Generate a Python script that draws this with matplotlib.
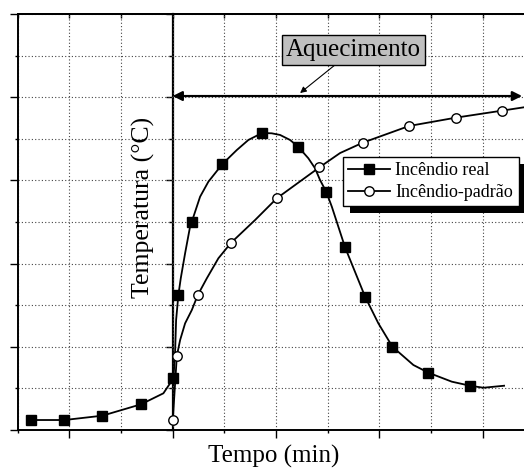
import numpy as np
import matplotlib
matplotlib.use("Agg")
import matplotlib.pyplot as plt
from matplotlib.patches import Rectangle
from matplotlib.transforms import IdentityTransform

plt.rcParams['font.family'] = ['Liberation Serif', 'DejaVu Serif']

# values (x in major divisions of time, y in major divisions of temperature)
# real fire curve; marked = point carries a square marker
real_x = [-1.368, -1.046, -0.679, -0.305, -0.089, 0.008, 0.024, 0.034, 0.056, 0.079,
          0.121, 0.169, 0.186, 0.266, 0.346, 0.482, 0.621, 0.733, 0.866, 0.959,
          1.040, 1.136, 1.214, 1.313, 1.378, 1.426, 1.487, 1.540, 1.603, 1.668,
          1.862, 1.990, 2.126, 2.329, 2.474, 2.700, 2.877, 3.006, 3.206]
real_y = [0.120, 0.120, 0.172, 0.309, 0.441, 0.621, 0.922, 1.322, 1.623, 1.823,
          2.124, 2.444, 2.504, 2.804, 2.984, 3.197, 3.365, 3.486, 3.570, 3.566,
          3.546, 3.486, 3.405, 3.266, 3.145, 3.005, 2.861, 2.684, 2.444, 2.196,
          1.602, 1.282, 1.001, 0.781, 0.689, 0.581, 0.532, 0.508, 0.532]
real_marked = [1, 1, 1, 1, 0, 1, 0, 0, 1, 0,
               0, 0, 1, 0, 0, 1, 0, 0, 1, 0,
               0, 0, 1, 0, 0, 0, 1, 0, 0, 1,
               1, 0, 1, 0, 1, 0, 1, 0, 0]

# standard fire curve; marked = point carries a circle marker
std_x = [0.002, 0.041, 0.073, 0.121, 0.186, 0.244, 0.331, 0.443, 0.566, 0.798,
         1.008, 1.420, 1.620, 1.839, 2.287, 2.739, 3.184, 3.400]
std_y = [0.120, 0.889, 1.082, 1.282, 1.442, 1.623, 1.823, 2.064, 2.251, 2.524,
         2.785, 3.157, 3.329, 3.453, 3.654, 3.754, 3.838, 3.879]
std_marked = [1, 1, 0, 0, 0, 1, 0, 0, 1, 0,
              1, 1, 0, 1, 1, 1, 1, 0]

labels = ["Incêndio real", "Incêndio-padrão"]
xlabel = "Tempo (min)"
ylabel = "Temperatura (°C)"
note = "Aquecimento"

W, H = 524, 470
fig = plt.figure(figsize=(W / 100, H / 100), dpi=100)
ax = fig.add_axes([17.5 / W, 40 / H, 508.7 / W, 416 / H])

xlim = (-1.5, 3.42)
ylim = (0, 5)

ax.plot(real_x, real_y, color='black', lw=1.3, marker='s', ms=6.5,
        markevery=[bool(m) for m in real_marked], mfc='black', mec='black',
        label=labels[0], zorder=3)
ax.plot(std_x, std_y, color='black', lw=1.3, marker='o', ms=6.8,
        markevery=[bool(m) for m in std_marked], mfc='white', mec='black', mew=1.0,
        label=labels[1], zorder=3)

ax.set_xlim(*xlim)
ax.set_ylim(*ylim)
ax.set_xticks(np.arange(-1, 3.5, 1))
ax.set_xticks(np.arange(-1.5, 3.5, 0.5), minor=True)
ax.set_yticks(np.arange(0, 5.5, 1))
ax.set_yticks(np.arange(0, 5.1, 0.5), minor=True)
ax.tick_params(which='both', labelbottom=False, labelleft=False, direction='out', width=1)
ax.tick_params(which='major', length=6)
ax.tick_params(which='minor', length=2.5)
# short inward ticks under the top frame line
secx = ax.secondary_xaxis('top')
secx.set_xticks(np.arange(-1.5, 3.5, 0.5))
secx.tick_params(which='both', direction='in', length=3, width=1, labeltop=False)
secx.spines['top'].set_linewidth(1.4)
ax.grid(which='both', linestyle=(0, (1, 2)), color='#444444', lw=0.8)
ax.set_axisbelow(True)

for s in ['left', 'bottom', 'top']:
    ax.spines[s].set_linewidth(1.4)
ax.spines['right'].set_visible(False)

# second vertical axis through time zero
zax = ax.secondary_yaxis((0 - xlim[0]) / (xlim[1] - xlim[0]))
zax.set_yticks(np.arange(0, 5.5, 1))
zax.set_yticks(np.arange(0, 5.1, 0.5), minor=True)
zax.tick_params(which='both', labelleft=False, direction='out', width=1)
zax.tick_params(which='major', length=5)
zax.tick_params(which='minor', length=3)
zax.spines['left'].set_linewidth(1.6)

ax.text(-0.285, 2.67, ylabel, rotation=90, ha='center', va='center', fontsize=18.5)
fig.text(273.5 / W, 1 - 456 / H, xlabel, ha='center', va='center', fontsize=18)

# heating period arrow
ax.annotate('', xy=(3.38, 4.014), xytext=(0, 4.014),
            arrowprops=dict(arrowstyle='<|-|>', color='black', lw=1.6,
                            mutation_scale=14, shrinkA=0, shrinkB=0))
ax.annotate(note, xy=(1.233, 4.05), xytext=(1.75, 4.567), fontsize=18,
            ha='center', va='center',
            bbox=dict(boxstyle='square,pad=0.15', fc='#c0c0c0', ec='black', lw=1),
            arrowprops=dict(arrowstyle='-|>', color='black', lw=0.8,
                            mutation_scale=9, shrinkA=0, shrinkB=0))

leg = ax.legend(loc='upper left', bbox_to_anchor=(343 / W, 1 - 157 / H),
                bbox_transform=fig.transFigure, fontsize=13, handlelength=2.3,
                handletextpad=0.3, borderpad=0.3, labelspacing=0.25,
                borderaxespad=0, fancybox=False, framealpha=1, edgecolor='black')
leg.get_frame().set_linewidth(1)
leg.set_zorder(6)

fig.canvas.draw()
bb = leg.get_window_extent()
ax.add_artist(Rectangle((bb.x0 + 7, bb.y0 - 7), bb.width, bb.height,
                        transform=IdentityTransform(), facecolor='black',
                        edgecolor='none', zorder=5.9, clip_on=False))

fig.savefig('out.png', dpi=100)
